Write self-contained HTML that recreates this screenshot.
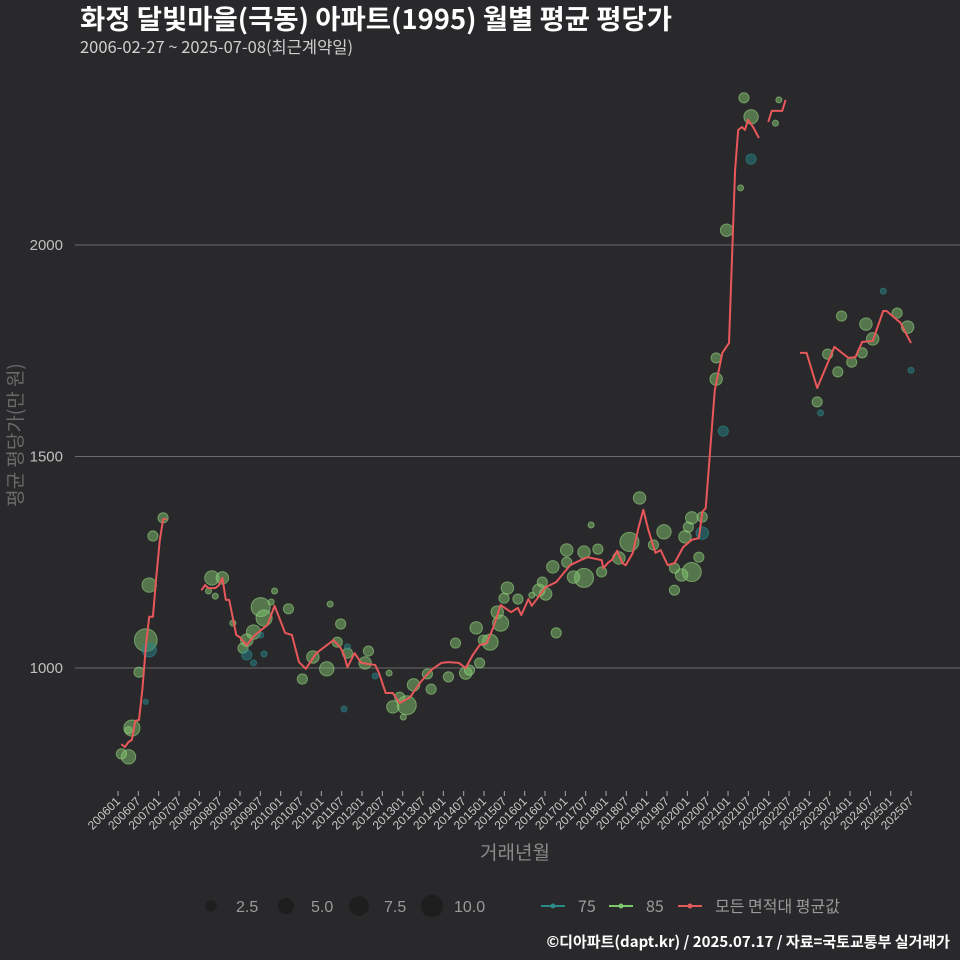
<!DOCTYPE html>
<html><head><meta charset="utf-8">
<style>
html,body{margin:0;padding:0;background:#29292b;}
svg{display:block;font-family:"Liberation Sans","Noto Sans CJK KR",sans-serif;}
.kr{font-family:"Noto Sans CJK KR","Liberation Sans",sans-serif;}
</style></head>
<body>
<svg id="chart" width="960" height="960" viewBox="0 0 960 960">
<rect width="960" height="960" fill="#29292b"/>
<text class="kr" x="80" y="29" fill="#ffffff" font-size="27" font-weight="bold" textLength="592" lengthAdjust="spacingAndGlyphs">화정 달빛마을(극동) 아파트(1995) 월별 평균 평당가</text>
<text class="kr" x="80" y="53" fill="#d0d0d0" font-size="16.5">2006-02-27 ~ 2025-07-08(최근계약일)</text>
<g id="grid"></g>
<g id="bubbles"></g>
<g id="lines"></g>
<g id="xaxis"></g>
<text class="kr" x="515" y="859" fill="#8a8a8a" font-size="19" text-anchor="middle">거래년월</text>
<text class="kr" transform="translate(22,435) rotate(-90)" fill="#6a6a6a" font-size="19" text-anchor="middle">평균 평당가(만 원)</text>
<g id="legend"></g>
<text class="kr" x="950" y="947" fill="#ffffff" font-size="15" font-weight="bold" text-anchor="end">©디아파트(dapt.kr) / 2025.07.17 / 자료=국토교통부 실거래가</text>
</svg>
<script>
const yTicks=[1000,1500,2000];
const yTickLabels=["1000","1500","2000"];
const xTickLabels=["200601","200607","200701","200707","200801","200807","200901","200907","201001","201007","201101","201107","201201","201207","201301","201307","201401","201407","201501","201507","201601","201607","201701","201707","201801","201807","201901","201907","202001","202007","202101","202107","202201","202207","202301","202307","202401","202407","202501","202507"];
const lineMonths=[1,2.05,3.1,4.1,5.1,6.2,7.2,8.2,9.2,10.3,11.3,12.3,13.3,14.4,null,
24.6,25.7,26.7,28.7,29.8,30.8,31.8,32.8,34.9,35.9,38,40,44.1,46.2,49.3,51.3,53.4,55.4,58.5,61.6,63.6,65.7,66.7,67.7,69.8,71.8,75.9,77,79,81.1,83.1,86.2,89.3,92.4,95.4,97.5,100.6,102.6,104.7,106.7,108.8,110.8,112.9,116,118,119,121.1,122.1,126.2,129.3,133.4,136.5,138.6,142.7,143.2,144.7,145.7,147.3,148.8,149.8,151.9,153.4,155,156.5,158.6,160.1,162.2,164.2,166.8,169.3,171.4,172.4,173.4,176.1,178.3,180.3,182.1,183,184.1,185,185.9,187.4,189.1,null,
191.9,192.9,196,197,null,
201.2,203.2,206.3,209.4,211.4,215.5,217.6,219.6,222.7,225.8,226.8,229.9,230.9,234];
const lineValues=[820,813,825,830,875,877,950,1050,1121,1121,1215,1300,1352,1352,null,
1184,1196,1189,1189,1196,1213,1161,1161,1078,1073,1054,1075,1102,1147,1083,1078,1014,998,1035,1054,1066,1047,1031,1002,1035,1012,1007,988,941,941,917,931,967,995,1012,1014,1012,1000,1031,1054,1059,1097,1149,1132,1142,1125,1163,1147,1191,1203,1243,1255,1262,1255,1236,1250,1255,1277,1248,1243,1272,1326,1374,1326,1272,1279,1243,1248,1286,1303,1307,1369,1378,1657,1745,1768,2177,2272,2279,2272,2296,2279,2253,null,
2291,2317,2317,2343,null,
1745,1745,1662,1721,1759,1733,1735,1771,1773,1844,1844,1823,1816,1768];
const bubbleMonths=[13.3,10.3,9.2,8.2,9.2,6.2,8.2,4.1,3.1,1,3.1,27.7,30.8,26.7,28.7,46.2,42.1,43.1,45.2,50.3,40,38,36.9,38,40,42.1,43.1,33.9,62.6,65.7,64.7,57.5,61.6,54.4,67.7,67.7,73.9,72.9,75.9,80,66.7,81.1,85.2,87.2,83.1,84.2,91.3,92.4,99.6,97.5,102.6,103.7,106.7,105.7,109.8,107.8,112.9,111.9,114.9,118,113.9,122.1,124.2,126.2,125.2,128.3,132.4,134.4,137.5,137.5,141.6,132.4,142.7,139.6,129.3,150.9,147.8,153.9,158,161.1,167.3,168.3,169.3,172.4,172.4,171.4,169.3,166.3,164.2,164.2,184.7,186.8,183.7,186.8,179.6,176.5,176.5,178.6,195,194,209.4,213.5,212.4,216.5,219.6,220.7,222.7,229.9,233,206.3,225.8,234,207.3];
const bubbleValues=[1355,1312,1196,1066,1043,990,920,858,853,797,790,1213,1213,1182,1170,1182,1144,1118,1156,1140,1085,1066,1047,1031,1012,1078,1033,1106,1151,1104,1061,1026,998,974,1050,1035,1040,1012,981,988,903,908,912,960,931,884,986,950,1059,979,988,995,1012,1095,1061,1066,1106,1132,1189,1163,1165,1172,1184,1175,1203,1239,1279,1215,1213,1274,1281,1250,1227,1338,1083,1298,1260,1402,1291,1322,1310,1333,1355,1357,1319,1262,1227,1220,1236,1184,2348,2303,2135,2203,2035,1733,1683,1560,2343,2288,1742,1832,1700,1723,1745,1813,1778,1839,1806,1629,1891,1704,1603];
const bubbleSizes=[2,2,4,10,4,2,0.5,5,1,2,4,4,3,0.7,0.7,0.7,7,5,0.7,2,4,3,2,2,0.7,0.7,0.7,0.7,0.7,2,2,3,4,2,0.7,2,2,3,0.7,0.7,0.7,3,7,3,2,0.7,2,2,2,2,3,2,2,3,5,2,5,3,3,2,2,0.7,3,3,2,3,3,3,7,3,2,2,2,0.7,2,7,3,3,2,4,3,2,3,2,3,2,7,3,2,2,2,4,0.7,2,3,2,3,2,0.7,0.7,2,2,2,2,2,3,3,2,3,2,0.7,0.7,0.7];
const bubbleTypes=[85,85,85,85,75,85,75,85,85,85,85,85,85,85,85,85,85,85,85,85,85,85,85,75,75,75,75,85,85,85,85,85,85,85,75,85,85,85,75,85,75,85,85,85,85,85,85,85,85,85,85,85,85,85,85,85,85,85,85,85,85,85,85,85,85,85,85,85,85,85,85,85,85,85,85,85,85,85,85,85,85,85,85,85,75,85,85,85,85,85,85,85,85,75,85,85,85,75,85,85,85,85,85,85,85,85,85,85,85,85,75,75,75];

const NS="http://www.w3.org/2000/svg";
function xs(m){return 118+m*3.389;}
function ys(v){return 668-(v-1000)*0.423;}
function rs(s){return 3.6*Math.sqrt(s);}
function mk(tag,attrs,parent){const e=document.createElementNS(NS,tag);for(const k in attrs)e.setAttribute(k,attrs[k]);parent.appendChild(e);return e;}

const grid=document.getElementById('grid');
yTicks.forEach((t,i)=>{
  const l=mk('line',{x1:75,x2:960,y1:ys(t),y2:ys(t),stroke:'#6b6b6b','stroke-width':1},grid);
  
  
  const tx=mk('text',{x:63,y:ys(t)+5,fill:'#c0c0c0','font-size':15,'text-anchor':'end'},grid);
  tx.textContent=yTickLabels[i];
  
  
});

const xa=document.getElementById('xaxis');
xTickLabels.forEach((lab,i)=>{
  const x=xs(i*6);
  const tk=mk('line',{x1:x,x2:x,y1:791,y2:796,stroke:'#aaaaaa','stroke-width':1},xa);
  
  
  const tx=mk('text',{x:x+3,y:802,fill:'#c8c8c8','font-size':12,'text-anchor':'end',transform:`rotate(-45 ${x+3} 802)`},xa);
  tx.textContent=lab;
  
  
});

const bg=document.getElementById('bubbles');
const order=bubbleSizes.map((s,i)=>i).sort((a,b)=>bubbleSizes[b]-bubbleSizes[a]);
order.forEach(i=>{
  const teal=bubbleTypes[i]===75;
  const c=mk('circle',{cx:xs(bubbleMonths[i]),cy:ys(bubbleValues[i]),r:rs(bubbleSizes[i]),
    fill:teal?'rgba(40,130,135,0.5)':'rgba(130,195,110,0.5)',stroke:teal?'rgba(40,140,140,0.6)':'rgba(150,210,130,0.6)','stroke-width':1},bg);
  
  
});

const lg=document.getElementById('lines');
let seg=[];
function flush(){
  if(seg.length>1){
    const p=mk('polyline',{points:seg.join(' '),fill:'none',stroke:'#e8585a','stroke-width':2,'stroke-linejoin':'round'},lg);
    
    
  }
  seg=[];
}
lineMonths.forEach((m,i)=>{
  if(m===null||lineValues[i]===null){flush();return;}
  seg.push(xs(m).toFixed(1)+','+ys(lineValues[i]).toFixed(1));
});
flush();

const leg=document.getElementById('legend');
const sizeLeg=[[2.5,211],[5.0,286],[7.5,359],[10.0,432]];
sizeLeg.forEach(([s,x])=>{
  const c=mk('circle',{cx:x,cy:906,r:rs(s),fill:'#1e1e1f'},leg);
  
  
  const t=mk('text',{x:x+25-(s>=10?3:0),y:912,fill:'#9a9a9a','font-size':16},leg);
  t.textContent=s.toFixed(1);
  
  
});
const lineLeg=[['75','#2a8a8a',553],['85','#7dc86a',621],['모든 면적대 평균값','#e05a5a',690]];
lineLeg.forEach(([lab,col,x])=>{
  const l=mk('line',{x1:x-12,x2:x+12,y1:906,y2:906,stroke:col,'stroke-width':2},leg);
  
  
  const c=mk('circle',{cx:x,cy:906,r:2.5,fill:col},leg);
  
  
  const t=mk('text',{x:x+25,y:912,fill:'#9a9a9a','font-size':16,'font-family':'Noto Sans CJK KR, Liberation Sans, sans-serif'},leg);
  t.textContent=lab;
  
  
});
</script>
</body></html>
